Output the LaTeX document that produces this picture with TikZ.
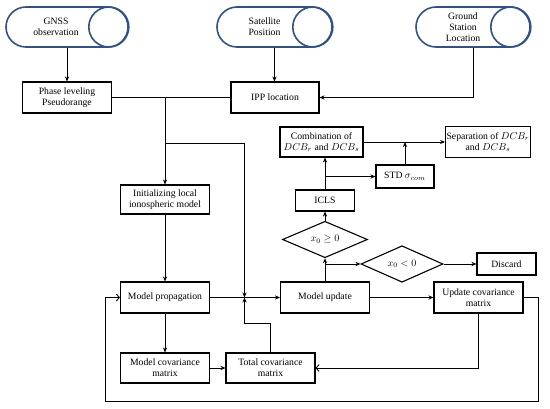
\documentclass[tikz,border=0pt]{standalone}
\usepackage{fontspec}
\setmainfont{Liberation Serif}
\usetikzlibrary{shapes.geometric,shapes.misc,arrows.meta,calc}
\definecolor{cylblue}{RGB}{47,82,143}
\begin{document}
\begin{tikzpicture}[x=1pt,y=-1pt,
  font=\fontsize{9.7}{10.8}\selectfont,
  box/.style={draw,line width=1.1pt,align=center,inner sep=1pt},
  dia/.style={draw,diamond,line width=1.1pt,inner sep=0pt},
  cyl/.style={draw=cylblue,line width=1.6pt,rounded rectangle,minimum height=40pt,inner sep=0pt},
  cyltext/.style={align=center,inner sep=0pt},
  arr/.style={line width=0.9pt,-{Stealth[length=5pt,width=4.2pt]}},
  oarr/.style={line width=0.9pt,-{Straight Barb[length=3pt,width=7pt]}},
  ln/.style={line width=0.9pt}]
\useasboundingbox (0,0) rectangle (550,409);

% cylinders
\node[cyl,minimum width=122pt] (gnss) at (67,27) {};
\node[cyl,minimum width=115pt] (sat) at (274.5,27) {};
\node[cyl,minimum width=114pt] (ground) at (473,27) {};
\foreach \c in {gnss,sat,ground}{
  \draw[cylblue,line width=1.6pt] ($(\c.east)+(-20,0)$) circle[radius=20pt];
}
\node[cyltext] (gnsst) at ($(gnss)+(-11,0)$) {GNSS\\observation};
\node[cyltext] (satt) at ($(sat)+(-10,0)$) {Satellite\\Position};
\node[cyltext] (groundt) at ($(ground)+(-10,0)$) {Ground\\Station\\Location};

% boxes
\node[box,minimum width=89pt,minimum height=31pt] (phase) at (67,97.5) {Phase leveling\\Pseudorange};
\node[box,minimum width=88pt,minimum height=31pt] (ipp) at (275,97.5) {IPP location};
\node[box,minimum width=89pt,minimum height=29pt] (init) at (165,199.5) {Initializing local\\ionospheric model};
\node[box,minimum width=83pt,minimum height=30pt] (comb) at (321.5,142) {Combination of\\$DCB_r$ and $DCB_s$};
\node[box,minimum width=80pt,minimum height=31pt] (sep) at (488,142) {Separation of $DCB_r$\\and $DCB_s$};
\node[box,minimum width=58pt,minimum height=23pt] (std) at (405,176.5) {STD $\sigma_{com}$};
\node[box,minimum width=59pt,minimum height=21pt] (icls) at (325,200.5) {ICLS};
\node[dia,minimum width=85pt,minimum height=21pt] (d1) at (325,239.5) {$x_0\ge0$};
\node[dia,minimum width=82pt,minimum height=22pt] (d2) at (402,264) {$x_0<0$};
\node[box,minimum width=59pt,minimum height=22pt] (discard) at (506.5,264) {Discard};
\node[box,minimum width=89pt,minimum height=31pt] (mprop) at (165,297.5) {Model propagation};
\node[box,minimum width=89pt,minimum height=31pt] (mupd) at (325,297.5) {Model update};
\node[box,minimum width=89pt,minimum height=31pt] (ucov) at (478.5,297.5) {Update covariance\\matrix};
\node[box,minimum width=89pt,minimum height=30pt] (mcov) at (165,368) {Model covariance\\matrix};
\node[box,minimum width=89pt,minimum height=30pt] (tcov) at (270.5,368) {Total covariance\\matrix};

% helper coordinates
\coordinate (ja) at (init.north |- phase.east);
\coordinate (jb) at (244.5,143);
\coordinate (j) at (244.5,297.5);
\coordinate (lr) at (538,401);
\coordinate (ll) at (105,401);

% connectors
\draw[arr] (gnss.south) -- (gnss.south |- phase.north);
\draw[arr] (sat.south) -- (sat.south |- ipp.north);
\draw[arr] (ground.south) |- (ipp.east);
\draw[ln] (phase.east) -- (ipp.west);
\draw[arr] (ja) -- (init.north);
\draw[arr] (jb -| init.north) -- (jb) -- (j);
\draw[arr] (init.south) -- (mprop.north);
\draw[arr] (mprop.east) -- (mupd.west);
\draw[arr] (mprop.south) -- (mcov.north);
\draw[arr] (mcov.east) -- (tcov.west);
\draw[arr] (tcov.north) -- ++(0,-29) -| (j);
\draw[arr] (mupd.east) -- (ucov.west);
\draw[oarr] (ucov.south) |- (tcov.east);
\draw[oarr] (ucov.east) -| (lr) -- (ll) |- (mprop.west);
\draw[arr] (mupd.north) -- (d1.south);
\draw[arr] (mupd.north |- d2.west) -- (d2.west);
\draw[arr] (d2.east) -- (discard.west);
\draw[arr] (d1.north) -- (icls.south);
\draw[arr] (icls.north) -- (icls.north |- comb.south);
\draw[arr] (icls.north |- std.west) -- (std.west);
\draw[arr] (comb.east) -- (sep.west);
\draw[arr] (std.north) -- (std.north |- comb.east);
\end{tikzpicture}
\end{document}
